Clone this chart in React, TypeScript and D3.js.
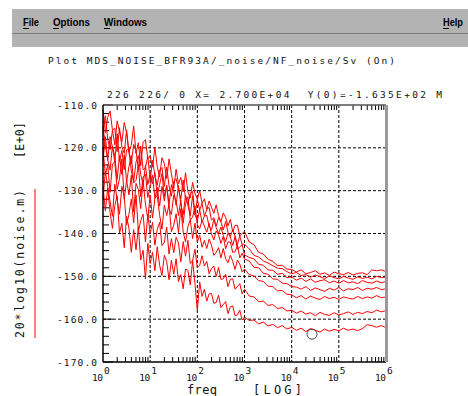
import React from 'react';
import * as d3 from 'd3';

// sample grid, log10 of frequency
const logFreq = [
  0, 0.05, 0.1, 0.15, 0.2, 0.25, 0.3, 0.35, 0.4, 0.45, 0.5, 0.55, 0.6, 0.65, 0.7, 0.75, 0.8, 0.85, 0.9, 0.95,
  1, 1.05, 1.1, 1.15, 1.2, 1.25, 1.3, 1.35, 1.4, 1.45, 1.5, 1.55, 1.6, 1.65, 1.7, 1.75, 1.8, 1.85, 1.9, 1.95,
  2, 2.05, 2.1, 2.15, 2.2, 2.25, 2.3, 2.35, 2.4, 2.45, 2.5, 2.55, 2.6, 2.65, 2.7, 2.75, 2.8, 2.85, 2.9, 2.95,
  3, 3.1, 3.2, 3.3, 3.4, 3.5, 3.6, 3.7, 3.8, 3.9, 4, 4.1, 4.2, 4.3, 4.4, 4.5, 4.6, 4.7, 4.8, 4.9,
  5, 5.1, 5.2, 5.3, 5.4, 5.5, 5.6, 5.7, 5.8, 5.9, 6
];

const noise1 = [
  -111, -116.5, -112.9, -111.4, -115.8, -119.3, -113.7, -116.2, -118.6, -114.1, -116.5, -121, -119.4, -114.9, -121.3, -118.8, -124.2, -118.7, -118.1, -122.6,
  -122, -124.5, -119.9, -124.4, -126.8, -122.3, -123.7, -127.2, -122.6, -126, -129.5, -125, -128.4, -126.9, -130.3, -125.8, -130.2, -131.7, -128.1, -130.6,
  -132, -130, -133, -131.9, -134.4, -132.4, -133.9, -135.3, -133.3, -135.8, -137.3, -135.2, -136.2, -138.2, -136.7, -139.6, -138.1, -138.1, -140.6, -140,
  -139.5, -142, -142.6, -144.4, -144.8, -146, -146.5, -147.5, -147.4, -148.3, -148.4, -149, -148.5, -149.4, -149.1, -148.7, -149.5, -149.2, -149.8, -149,
  -149.4, -149.6, -149.1, -149.7, -149.3, -149.2, -149.6, -148.5, -148.7, -148.5, -148.9
];
const noise2 = [
  -116, -112.5, -118, -120.4, -115.9, -115.4, -120.9, -115.3, -119.8, -121.3, -115.8, -121.2, -123.7, -119.2, -120.7, -125.1, -119.6, -125.1, -124.6, -122,
  -127.5, -122.9, -126.4, -128.8, -125.2, -124.6, -129, -124.5, -128.9, -131.3, -127.8, -127.2, -129.6, -132, -127.5, -131.9, -133.3, -130.7, -130.2, -135.6,
  -132, -134.5, -133, -135.9, -134.4, -133.9, -136.9, -136.3, -138.3, -136.3, -137.3, -139.2, -137.2, -139.7, -140.7, -139.1, -140.6, -142.6, -140.6, -142.5,
  -142.5, -143.6, -145.1, -145.5, -146.4, -146.9, -147.5, -148.1, -148.2, -148.9, -149.4, -149.1, -149.8, -149.6, -150.2, -149.7, -150.1, -150.5, -149.9, -150.3,
  -150.6, -150, -150.4, -150.7, -150.1, -150.5, -150.2, -150.6, -150, -150.3, -150.2
];
const noise3 = [
  -115, -119.5, -122.9, -117.4, -119.8, -123.3, -116.7, -123.2, -120.6, -125.1, -120.5, -120, -125.4, -127.9, -123.3, -121.8, -126.2, -128.7, -124.1, -128.6,
  -126, -128.4, -125.8, -131.2, -128.6, -126, -131.4, -128.8, -133.2, -128.6, -130, -133.4, -128.8, -133.2, -135.6, -131, -133.4, -135.8, -131.2, -135.6,
  -137, -134.5, -137.4, -135.9, -135.8, -138.3, -139.2, -136.7, -138.6, -140, -138.5, -140.5, -141.9, -139.9, -140.8, -142.8, -140.7, -143.7, -143.1, -142.6,
  -145, -145.6, -145.9, -147.2, -147.4, -148.5, -148.6, -149.5, -149.3, -150.3, -150.1, -150.9, -150.4, -151.2, -150.6, -151.4, -151, -150.8, -151.5, -151.1,
  -151.6, -151, -151.5, -151.3, -151.7, -151, -151.4, -151.6, -151.1, -151.5, -151.2
];
const noise4 = [
  -123, -117.4, -122.8, -125.2, -119.6, -122, -127.4, -121.8, -126.2, -121.6, -128, -124.4, -121.8, -128.2, -127.6, -124, -131.4, -126.8, -126.2, -131.6,
  -129, -126.4, -131.8, -129.2, -133.6, -129, -132.4, -128.8, -134.2, -135.6, -131, -132.4, -135.8, -132.2, -137.6, -133, -131.4, -136.8, -136.2, -133.6,
  -138, -138.9, -136.9, -138.3, -139.7, -137.6, -140.1, -141.5, -139.4, -140.3, -142.3, -140.7, -143.6, -142, -142, -144.4, -144.3, -142.7, -145.7, -144.6,
  -146, -146.4, -147.9, -148, -149.3, -149.5, -150.6, -150.7, -151.6, -151.7, -152.4, -152.5, -153, -152.4, -153.3, -152.7, -153.1, -153.5, -152.8, -153.2,
  -152.6, -153.4, -152.9, -153.1, -152.6, -153.3, -152.8, -153, -152.6, -153.1, -152.9
];
const noise5 = [
  -120, -126.5, -123.9, -130.4, -123.8, -123.3, -129.7, -127.2, -122.6, -132, -127.5, -131, -126.4, -134.9, -128.3, -129.8, -134.2, -127.7, -133.1, -136.6,
  -131, -136.4, -131.8, -131.2, -135.6, -139, -133.4, -135.8, -133.2, -139.6, -138, -135.4, -139.8, -134.2, -139.6, -142, -138.4, -136.8, -141.2, -137.6,
  -142, -140.4, -143.2, -141.6, -143.5, -141.3, -142.7, -145.1, -144.4, -143.3, -145.7, -143.5, -145.9, -146.8, -145.1, -146.5, -148.4, -146.2, -147.1, -149,
  -148.3, -149.6, -149.9, -151, -151.2, -152.3, -152.4, -153.4, -153.3, -154.2, -154.3, -155, -154.5, -155.3, -154.6, -155.1, -155.4, -154.7, -155.2, -154.9,
  -155.4, -154.8, -155.1, -155.3, -154.7, -155.2, -154.8, -155.1, -154.5, -155, -154.8
];
const noise6 = [
  -132, -125.5, -129, -132.5, -136, -128.5, -132, -135.5, -129, -131.5, -138, -135.5, -132, -137.5, -131, -139.5, -137, -135.5, -142, -135.5,
  -140, -137.4, -142.7, -139, -137.4, -142.8, -142.1, -138.5, -144.8, -141.2, -144.5, -140.9, -142.2, -146.6, -141.9, -145.3, -141.6, -147, -146.3, -143.7,
  -148, -147.4, -145.2, -147.6, -146.5, -149.4, -148.2, -147.6, -150, -147.9, -150.7, -150.6, -149.5, -152.4, -150.7, -150.6, -153, -152.4, -151.7, -154.1,
  -153, -154.6, -154.8, -155.9, -155.8, -156.8, -156.6, -157.5, -157.3, -158.1, -157.9, -158.6, -158.1, -158.8, -158.5, -159.2, -158.4, -158.9, -159.1, -158.5,
  -159, -158.7, -158.3, -158.9, -158.4, -158.7, -158.2, -158.5, -157.9, -158.3, -158
];
const noise7 = [
  -129, -134.7, -129.4, -135.1, -138.8, -133.5, -131.2, -139.9, -137.6, -143.3, -136, -138.7, -144.4, -139.1, -143.8, -138.5, -146.2, -143.9, -150.6, -142.3,
  -147, -144.4, -148.7, -143.1, -147.4, -149.8, -145.1, -146.5, -150.8, -146.2, -149.5, -145.9, -151.2, -149.6, -152.9, -148.3, -148.6, -152, -146.3, -151.7,
  -158, -151.3, -154.7, -153, -155.8, -154.1, -154, -156.3, -156.1, -154.4, -157.3, -156.6, -155.9, -158.7, -157.1, -156.9, -159.2, -159, -157.9, -160.2,
  -159.5, -160.3, -160.2, -161.1, -160.7, -161.6, -161.2, -162, -161.5, -162.3, -161.9, -162.6, -162.1, -162.9, -162.2, -162.6, -163, -162.3, -162.8, -162.4,
  -162.7, -162.1, -162.6, -162.3, -162.7, -162.2, -161.3, -161.5, -161.9, -161.5, -162
];
const allSeries = [noise1, noise2, noise3, noise4, noise5, noise6, noise7];

const yTicks = [-110, -120, -130, -140, -150, -160, -170];
const xDecades = [0, 1, 2, 3, 4, 5, 6];

const markerFreq = 2.7e4;
const markerVal = -163.5;

const menuItems = [
  { label: 'File', x: 23, w: 16 },
  { label: 'Options', x: 53, w: 37 },
  { label: 'Windows', x: 104, w: 43 },
  { label: 'Help', x: 443, w: 20 },
];

const mono = '"DejaVu Sans Mono", "Liberation Mono", monospace';

export default function App() {
  const left = 103, right = 386, top = 105, bottom = 362;
  const x = d3.scaleLog().domain([1, 1e6]).range([left, right]);
  const y = d3.scaleLinear().domain([-170, -110]).range([bottom, top]);

  const line = d3.line<number>()
    .x((d, i) => x(Math.pow(10, logFreq[i])))
    .y(d => y(d));

  const minorX: number[] = [];
  xDecades.slice(0, -1).forEach(e => {
    for (let k = 2; k <= 9; k++) minorX.push(k * Math.pow(10, e));
  });
  const minorY = d3.range(-168, -110, 2).filter(v => v % 10 !== 0);

  const txt = { fontFamily: mono, fontSize: 9.5, fill: '#111' };

  return (
    <svg width={468} height={396} style={{ position: 'absolute', left: 0, top: 0, background: '#fff' }}>
      {/* menu bar */}
      <rect x={12} y={9} width={456} height={38} fill="#b3b3b3" />
      <line x1={12} x2={468} y1={33.5} y2={33.5} stroke="#7a7a7a" />
      {menuItems.map(m => (
        <g key={m.label}>
          <text x={m.x} y={26} fontFamily='"Liberation Sans", Arial, sans-serif' fontWeight="bold" fontSize={11}
            textLength={m.w} lengthAdjust="spacingAndGlyphs" fill="#000">{m.label}</text>
          <line x1={m.x} x2={m.x + 6} y1={28.5} y2={28.5} stroke="#000" />
        </g>
      ))}

      <text x={48} y={64} {...txt} textLength={347} lengthAdjust="spacing">
        Plot MDS_NOISE_BFR93A/_noise/NF_noise/Sv (On)
      </text>
      <text x={107} y={98} {...txt} textLength={335} lengthAdjust="spacing" style={{ whiteSpace: 'pre' }}>
        {'226 226/ 0 X= 2.700E+04  Y(0)=-1.635E+02 M'}
      </text>

      {/* grid */}
      {yTicks.slice(1, -1).map(v => (
        <line key={'gy' + v} x1={left} x2={right} y1={y(v)} y2={y(v)} stroke="#000" strokeDasharray="3,2" />
      ))}
      {xDecades.slice(1, -1).map(e => (
        <line key={'gx' + e} x1={x(Math.pow(10, e))} x2={x(Math.pow(10, e))} y1={top} y2={bottom} stroke="#000" strokeDasharray="3,2" />
      ))}

      {/* ticks */}
      {minorX.map((f, i) => (
        <g key={'mx' + i}>
          <line x1={x(f)} x2={x(f)} y1={bottom} y2={bottom - 5} stroke="#000" />
          <line x1={x(f)} x2={x(f)} y1={top} y2={top + 5} stroke="#000" />
        </g>
      ))}
      {minorY.map(v => (
        <line key={'my' + v} x1={left} x2={left + 6} y1={y(v)} y2={y(v)} stroke="#000" />
      ))}
      {yTicks.map(v => (
        <line key={'ty' + v} x1={left} x2={left + 10} y1={y(v)} y2={y(v)} stroke="#000" />
      ))}

      {/* curves */}
      {allSeries.map((s, i) => (
        <path key={'s' + i} d={line(s) || ''} fill="none" stroke="#ff0000" strokeWidth={1} />
      ))}

      {/* frame */}
      <line x1={left} x2={right} y1={top} y2={top} stroke="#555" strokeWidth={1.5} />
      <line x1={left} x2={right} y1={bottom} y2={bottom} stroke="#000" strokeWidth={1.5} />
      <line x1={left} x2={left} y1={top} y2={bottom} stroke="#000" strokeWidth={1.5} />
      <line x1={right + 0.5} x2={right + 0.5} y1={top} y2={bottom} stroke="#999" strokeWidth={3} />

      <circle cx={x(markerFreq)} cy={y(markerVal)} r={5} fill="none" stroke="#444" />

      {/* y labels */}
      {yTicks.map(v => (
        <text key={'yl' + v} x={97} y={y(v) + 3.5} textAnchor="end" {...txt}
          textLength={40} lengthAdjust="spacing">{v.toFixed(1)}</text>
      ))}
      {/* x labels */}
      {xDecades.map(e => (
        <g key={'xl' + e}>
          <text x={x(Math.pow(10, e)) - 11} y={381} {...txt} textLength={11} lengthAdjust="spacing">10</text>
          <text x={x(Math.pow(10, e)) + 1} y={374} {...txt}>{e}</text>
        </g>
      ))}
      <text x={187} y={394} {...txt} fontSize={12} textLength={30} lengthAdjust="spacing">freq</text>
      <text x={253} y={394} {...txt} fontSize={12} textLength={49} lengthAdjust="spacing">[LOG]</text>

      {/* y axis title */}
      <text transform="translate(24,338) rotate(-90)" {...txt} fontSize={11.5} textLength={148}
        lengthAdjust="spacing">20*log10(noise.m)</text>
      <text transform="translate(24,158) rotate(-90)" {...txt} fontSize={11.5} textLength={36}
        lengthAdjust="spacing">[E+0]</text>
      <line x1={35} x2={35} y1={189} y2={338} stroke="#ff0000" />
    </svg>
  );
}
